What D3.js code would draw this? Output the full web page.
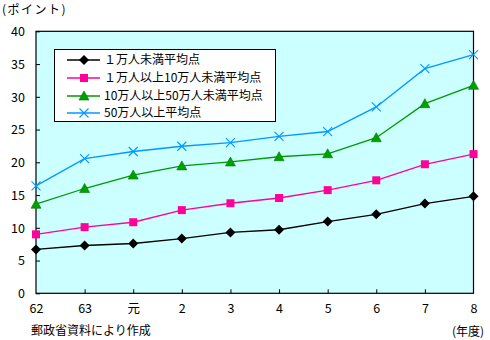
<!DOCTYPE html>
<html><head><meta charset="utf-8">
<script src="https://cdn.jsdelivr.net/npm/d3@7"></script>
<style>
html,body{margin:0;padding:0;background:#fff;}
text{font-family:"Noto Sans CJK JP","Noto Sans",sans-serif;fill:#000;}
</style></head>
<body><svg id="c" width="490" height="340"></svg>
<script>
const categories = ["62","63","元","2","3","4","5","6","7","8"];
const seriesNames = ["１万人未満平均点","１万人以上10万人未満平均点","10万人以上50万人未満平均点","50万人以上平均点"];
const s1 = [6.7, 7.3, 7.6, 8.35, 9.3, 9.7, 10.95, 12.05, 13.7, 14.8];
const s2 = [9.0, 10.1, 10.85, 12.7, 13.75, 14.55, 15.75, 17.25, 19.7, 21.25];
const s3 = [13.6, 16.0, 18.05, 19.45, 20.05, 20.85, 21.3, 23.75, 28.95, 31.75];
const s4 = [16.4, 20.55, 21.65, 22.45, 23.0, 23.95, 24.7, 28.45, 34.3, 36.45];
const yTicks = [0,5,10,15,20,25,30,35,40];

const series = [s1,s2,s3,s4];
const colors = ["#000000","#FF0099","#009900","#0099FF"];
const markers = ["diamond","square","triangle","x"];

const svg = d3.select("#c");
const L=36, R=473.5, T=31.3, B=293.3;
const x = d3.scalePoint().domain(categories).range([L,R]);
const y = d3.scaleLinear().domain([0,40]).range([B,T]);

svg.append("rect").attr("x",L).attr("y",T).attr("width",R-L).attr("height",B-T)
  .attr("fill","#CCFFFF").attr("stroke","#000").attr("stroke-width",1.2);

// y axis
const ya = svg.append("g").attr("transform",`translate(${L},0)`)
  .call(d3.axisLeft(y).tickValues(yTicks).tickSize(-4).tickPadding(11));
ya.select(".domain").remove();
ya.selectAll("line").attr("stroke","#000");
ya.selectAll("text").attr("font-size",12.5).attr("dy","0.35em");

// x axis
const xa = svg.append("g").attr("transform",`translate(0,${B})`)
  .call(d3.axisBottom(x).tickSize(-4).tickPadding(11));
xa.select(".domain").remove();
xa.selectAll("line").attr("stroke","#000");
xa.selectAll("text").attr("font-size",12.5);
xa.selectAll(".tick").filter((d,i)=>i===0||i===categories.length-1).select("line").remove();

function drawMarker(g, type, cx, cy, color){
  if(type==="diamond"){
    g.append("path").attr("d",`M${cx},${cy-5}L${cx+5},${cy}L${cx},${cy+5}L${cx-5},${cy}Z`).attr("fill",color);
  } else if(type==="square"){
    g.append("rect").attr("x",cx-4).attr("y",cy-4).attr("width",8).attr("height",8).attr("fill",color);
  } else if(type==="triangle"){
    g.append("path").attr("d",`M${cx},${cy-5}L${cx+5},${cy+4}L${cx-5},${cy+4}Z`).attr("fill","#00A000").attr("stroke","#007700").attr("stroke-width",0.6);
  } else {
    g.append("path").attr("d",`M${cx-4.5},${cy-4.5}L${cx+4.5},${cy+4.5}M${cx-4.5},${cy+4.5}L${cx+4.5},${cy-4.5}`).attr("stroke",color).attr("stroke-width",1.1);
  }
}

const line = d3.line().x((d,i)=>x(categories[i])).y(d=>y(d));
series.forEach((s,k)=>{
  svg.append("path").datum(s).attr("d",line).attr("fill","none").attr("stroke",colors[k]).attr("stroke-width",1.3);
});
series.forEach((s,k)=>{
  const g = svg.append("g");
  s.forEach((v,i)=>drawMarker(g, markers[k], x(categories[i]), y(v), colors[k]));
});

// legend
const lg = svg.append("g");
lg.append("rect").attr("x",54.5).attr("y",49.5).attr("width",221).attr("height",72).attr("fill","#fff").attr("stroke","#000").attr("stroke-width",1);
const ly = [60,78,96,113];
seriesNames.forEach((n,k)=>{
  lg.append("line").attr("x1",67).attr("x2",100).attr("y1",ly[k]).attr("y2",ly[k]).attr("stroke",colors[k]).attr("stroke-width",1.3);
  drawMarker(lg, markers[k], 84, ly[k], colors[k]);
  lg.append("text").attr("x",104).attr("y",ly[k]).attr("dy","0.36em").attr("font-size",12).text(n);
});

svg.append("text").attr("x",2).attr("y",14).attr("font-size",12).attr("letter-spacing",1.5).text("(ポイント)");
svg.append("text").attr("x",31).attr("y",335).attr("font-size",12).text("郵政省資料により作成");
svg.append("text").attr("x",452).attr("y",336).attr("font-size",12).text("(年度)");
</script></body></html>
